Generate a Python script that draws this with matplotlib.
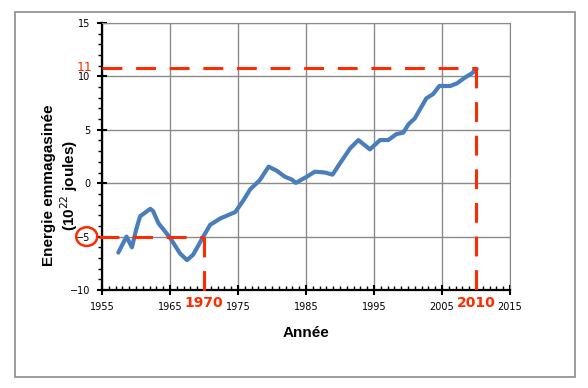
import matplotlib
matplotlib.use("Agg")
import matplotlib.pyplot as plt
from matplotlib.patches import Rectangle, Ellipse
from matplotlib.ticker import MultipleLocator
import matplotlib.transforms as mtransforms

# Ocean heat content
years = [1957.4, 1958.6, 1959.4, 1960.0, 1960.6, 1962.1, 1962.5, 1963.3,
         1964.5, 1965.2, 1966.5, 1967.5, 1968.4, 1969.9, 1970.9, 1972.4,
         1974.6, 1975.8, 1976.8, 1978.2, 1979.5, 1980.7, 1981.9, 1982.9,
         1983.5, 1985.1, 1986.3, 1987.8, 1988.9, 1990.0, 1991.5, 1992.7,
         1994.4, 1995.9, 1997.1, 1998.3, 1999.3, 2000.1, 2001.0, 2002.7,
         2003.7, 2004.6, 2006.2, 2007.2, 2008.4, 2009.4, 2010.1]
energy = [-6.5, -5.0, -6.0, -4.4, -3.1, -2.4, -2.6, -3.75,
          -4.7, -5.3, -6.6, -7.2, -6.7, -5.0, -3.9, -3.3,
          -2.7, -1.6, -0.57, 0.28, 1.55, 1.17, 0.6, 0.35,
          0.03, 0.6, 1.08, 1.0, 0.8, 1.86, 3.27, 4.04,
          3.17, 4.04, 4.04, 4.6, 4.73, 5.54, 6.07, 7.95,
          8.35, 9.1, 9.1, 9.35, 9.9, 10.29, 10.7]

x_ticks = [1955, 1965, 1975, 1985, 1995, 2005, 2015]
y_ticks = [-10, -5, 0, 5, 10, 15]

# highlighted readings (year, value)
low_year, low_value = 1970, -5
high_year, high_value = 2010, 10.75

blue = "#4A7EBB"
red = "#FF2A00"

fig = plt.figure(figsize=(5.88, 3.88), dpi=100)
fig.add_artist(Rectangle((15 / 588, 11 / 388), 560 / 588, 365 / 388,
                         transform=fig.transFigure, fill=False,
                         edgecolor="#8c8c8c", linewidth=1.2))

ax = fig.add_axes([102 / 588, 98 / 388, 408 / 588, 267 / 388])
ax.set_xlim(1955, 2015)
ax.set_ylim(-10, 15)
ax.set_xticks(x_ticks)
ax.set_yticks(y_ticks)
ax.xaxis.set_minor_locator(MultipleLocator(1))
ax.yaxis.set_minor_locator(MultipleLocator(1))
ax.grid(True, which="major", color="#8a8a8a", linewidth=1.0)
ax.set_axisbelow(True)

for side in ["top", "right"]:
    ax.spines[side].set_color("#8a8a8a")
for side in ["left", "bottom"]:
    ax.spines[side].set_color("black")
    ax.spines[side].set_linewidth(1.6)

ax.tick_params(axis="both", which="major", direction="inout", length=7,
               width=1.5, labelsize=7)
ax.tick_params(axis="x", which="minor", direction="in", length=3, width=1)
ax.tick_params(axis="y", which="minor", direction="out", length=3, width=1)
ax.tick_params(axis="x", which="major", pad=5)
ax.tick_params(axis="y", which="major", pad=5)

ax.plot(years, energy, color=blue, linewidth=3, solid_joinstyle="round",
        solid_capstyle="round", zorder=3)

# red dashed reading lines
dash = dict(color=red, linewidth=2.2, dashes=(6.5, 4.5), zorder=4, clip_on=False)
ax.plot([1954.5, low_year], [low_value, low_value], **dash)
ax.plot([low_year, low_year], [low_value, -10.7], **dash)
ax.plot([1955, high_year], [high_value, high_value], **dash)
ax.plot([high_year, high_year], [high_value, -10.3], **dash)

# red labels
ax.text(low_year, -10, "1970", transform=mtransforms.offset_copy(
    ax.transData, fig=fig, y=-13, units="dots"),
    color=red, fontsize=10, fontweight="bold", ha="center", va="center")
ax.text(high_year, -10, "2010", transform=mtransforms.offset_copy(
    ax.transData, fig=fig, y=-13, units="dots"),
    color=red, fontsize=10, fontweight="bold", ha="center", va="center")
ax.text(1955, high_value, "11", transform=mtransforms.offset_copy(
    ax.transData, fig=fig, x=-10, y=1, units="dots"),
    color=red, fontsize=9, ha="right", va="center")

# circle around -5 tick label
ax.add_patch(Ellipse((1952.75, -5), 3.1, 1.75, fill=False, edgecolor=red,
                     linewidth=1.8, clip_on=False))

ax.set_xlabel("Année", fontsize=11, fontweight="bold",
              family="Liberation Sans", labelpad=10)
fig.text(49 / 588, 1 - 185 / 388, "Energie emmagasinée", rotation=90,
         ha="center", va="center", fontsize=11, fontweight="bold",
         family="Liberation Sans")
fig.text(69 / 588, 1 - 186 / 388, "(10$^{22}$ joules)", rotation=90,
         ha="center", va="center", fontsize=11, fontweight="bold",
         family="Liberation Sans")

fig.savefig("out.png", dpi=100)
